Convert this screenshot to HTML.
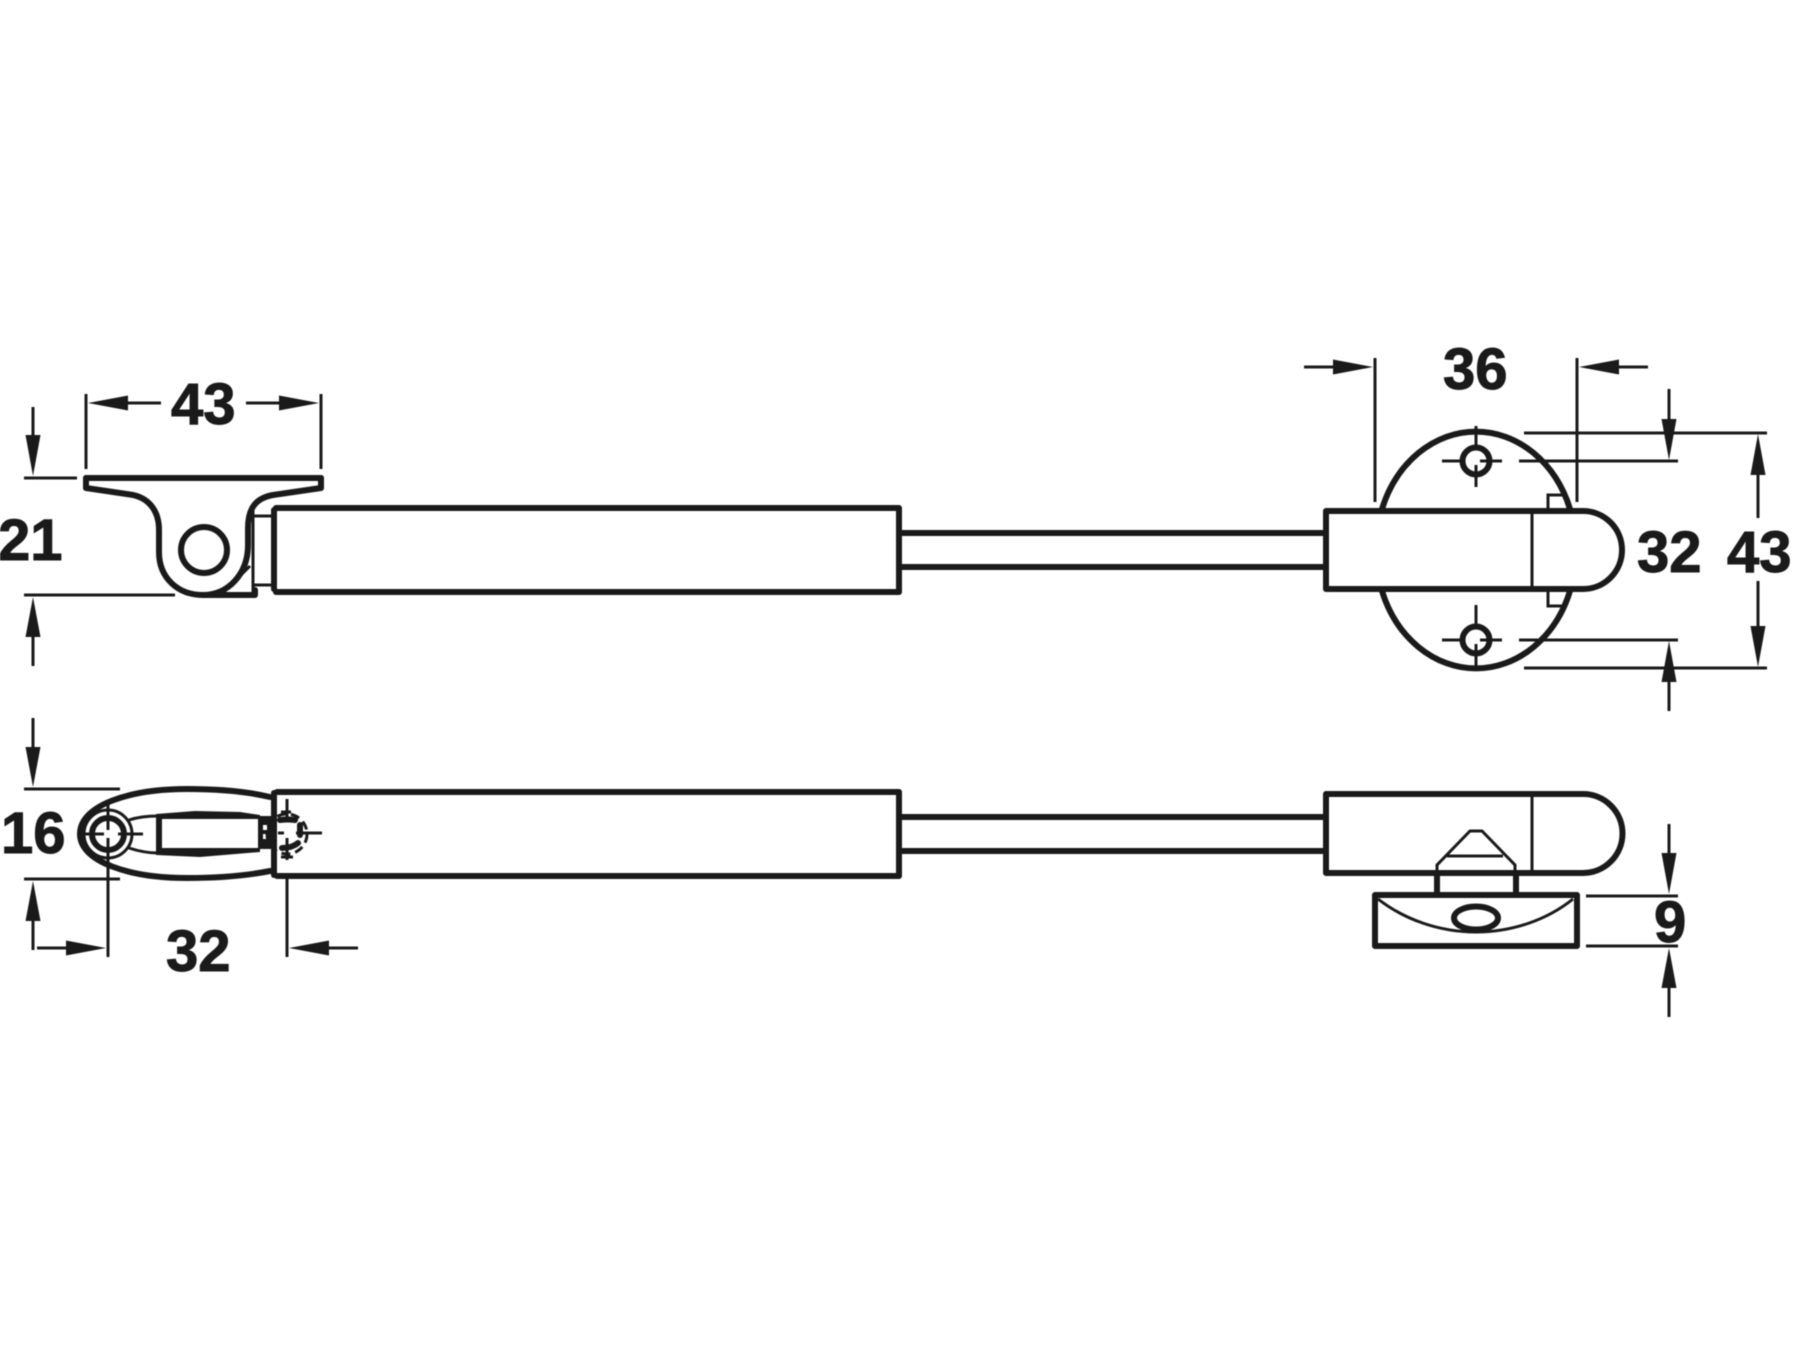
<!DOCTYPE html>
<html>
<head>
<meta charset="utf-8">
<style>
html,body{margin:0;padding:0;background:#fff;}
svg{display:block;filter:blur(0.45px);}
text{font-family:"Liberation Sans",sans-serif;font-weight:bold;font-size:58px;fill:#1a1a1a;stroke:#1a1a1a;stroke-width:1;}
.k{fill:none;stroke:#1a1a1a;stroke-width:6;stroke-linejoin:round;stroke-linecap:round;}
.t{fill:none;stroke:#1a1a1a;stroke-width:3;stroke-linecap:butt;}
.a{fill:#1a1a1a;stroke:none;}
</style>
</head>
<body>
<svg width="1800" height="1350" viewBox="0 0 1800 1350" xmlns="http://www.w3.org/2000/svg">
<rect width="1800" height="1350" fill="#fff"/>

<!-- upper gas strut -->
<path class="k" d="M276 508 H899 V592 H276"/>
<path class="k" d="M274 510 V589" stroke-width="8"/>
<path class="k" d="M902 533 L1326 533 M902 567 L1326 567"/>
<path class="k" d="M1583 511 L1326 511 L1326 589 L1583 589 A39 39 0 0 0 1583 511 Z"/>
<path class="t" d="M1532 511 V589"/>

<!-- plate behind right end -->
<path class="k" d="M1382 509 A100 117.5 0 0 1 1570 509"/>
<path class="k" d="M1382 591 A100 117.5 0 0 0 1570 591"/>
<path class="t" d="M1548 509 V495 H1563 M1548 591 V606 H1564"/>
<circle class="k" cx="1476" cy="461" r="13.5" stroke-width="4.5"/>
<circle class="k" cx="1476" cy="640" r="13.5" stroke-width="4.5"/>
<path class="t" d="M1476 426 V445 M1476 465 V487 M1442 461 H1461 M1480 461 H1502 M1519 461 H1678"/>
<path class="t" d="M1476 605 V624 M1476 644 V668 M1442 640 H1461 M1480 640 H1502 M1519 640 H1678"/>

<!-- upper left bracket -->
<path class="k" d="M86 478 H321" stroke-width="7"/>
<path class="k" d="M86 478 V488 L130 494.5 C148 497 159 510 159 530 V552 C159 578 178 595 203 595 C228 595 248 574 248 545 V528 C248 508 256 498 273 495 L321 488 V478" stroke-width="5.5"/>
<path class="k" d="M203 595 H255 V590" stroke-width="5"/>
<circle class="k" cx="204" cy="550" r="23" stroke-width="4.5"/>
<path class="t" d="M253 592 V510 M223 593 L250 566 M254 516 H271 M254 585 H271"/>

<!-- lower gas strut -->
<path class="k" d="M277 792 H899 V876 H277"/>
<path class="k" d="M274 793 V875" stroke-width="9"/>
<path class="k" d="M902 817 H1326 M902 851 H1326"/>
<path class="k" d="M1583 794 L1326 794 L1326 873 L1583 873 A39.5 39.5 0 0 0 1583 794 Z"/>
<path class="t" d="M1532 794 V873"/>

<!-- lower right bracket -->
<path class="t" d="M1437 872 V865 L1470 831 H1482 L1515 865 V872 M1447 856 H1503"/>
<path class="k" d="M1437 873 V895 M1516 873 V895" stroke-width="5"/>
<rect class="k" x="1375" y="895" width="202" height="51"/>
<path class="t" d="M1378 899 C1405 920 1440 932 1476 932 C1512 932 1547 920 1573 899"/>
<ellipse class="k" cx="1476" cy="918" rx="22" ry="11.5" stroke-width="5"/>

<!-- lower left oval -->
<path class="k" d="M270 797 C245 791 215 789 187 789 C130 789 80 805 80 834 C80 862 130 878 187 878 C215 878 245 876 270 871"/>
<circle class="k" cx="108" cy="834" r="16" stroke-width="5"/>
<circle class="t" cx="108" cy="834" r="24"/>
<path class="t" d="M108 805 V830 M108 838 V861 M80 834 H104 M118 834 H143"/>
<path class="t" d="M129 820 C138 817 148 816 158 816 M129 848 C138 851 148 853 158 853" stroke-width="3.5"/>
<polygon class="a" points="156,814 195,811 240,812 260,815 260,819 162,819 162,848 260,848 260,852 200,857 156,855"/>
<rect class="a" x="258" y="816" width="14" height="33"/>
<rect x="263" y="825" width="4" height="5" fill="#fff"/>
<rect x="263" y="834" width="5" height="5" fill="#fff"/>

<!-- dashed pivot -->
<circle class="t" cx="287" cy="834" r="20" stroke-dasharray="9 5"/>
<path class="k" d="M280 820 Q288 819 295 820 M282 848 Q292 848 298 843 M300 825 V835" stroke-width="5"/>
<path class="t" d="M287 799 V821 M287 838 V860 M281 857 H293 M281 812 H291 M296 833 H322 M278 833 H284"/>

<!-- dimension: 43 top -->
<path class="t" d="M86 394 V469 M321 394 V469 M128 403 H161 M246 403 H279"/>
<polygon class="a" points="88,403 128,395.5 128,410.5"/>
<polygon class="a" points="319,403 279,395.5 279,410.5"/>
<text x="171" y="424">43</text>

<!-- dimension: 21 -->
<path class="t" d="M24 478 H77 M24 595 H175 M33 407 V436 M33 637 V666"/>
<polygon class="a" points="33,476 25.5,435 40.5,435"/>
<polygon class="a" points="33,597 25.5,637 40.5,637"/>
<text x="-2" y="560">21</text>

<!-- dimension: 36 -->
<path class="t" d="M1375 358 V502 M1577 358 V502 M1304 367 H1333 M1619 367 H1648"/>
<polygon class="a" points="1373,367 1333,359.5 1333,374.5"/>
<polygon class="a" points="1579,367 1619,359.5 1619,374.5"/>
<text x="1443" y="389">36</text>

<!-- dimension: 32 right, 43 right -->
<path class="t" d="M1524 433 H1767 M1524 668 H1767 M1669 389 V419 M1669 682 V711 M1758 475 V518 M1758 581 V626"/>
<polygon class="a" points="1669,460 1661.5,419 1676.5,419"/>
<polygon class="a" points="1669,641 1661.5,682 1676.5,682"/>
<polygon class="a" points="1758,434 1750.5,475 1765.5,475"/>
<polygon class="a" points="1758,667 1750.5,626 1765.5,626"/>
<text x="1637" y="572">32</text>
<text x="1727" y="572">43</text>

<!-- dimension: 16 -->
<path class="t" d="M24 789 H120 M24 879 H120 M33 718 V748 M33 921 V950"/>
<polygon class="a" points="33,787 25.5,747 40.5,747"/>
<polygon class="a" points="33,881 25.5,921 40.5,921"/>
<text x="1" y="853">16</text>

<!-- dimension: 32 bottom -->
<path class="t" d="M108 858 V957 M287 876 V957 M37 948 H67 M329 948 H358"/>
<polygon class="a" points="106,948 66,940.5 66,955.5"/>
<polygon class="a" points="289,948 329,940.5 329,955.5"/>
<text x="166" y="971">32</text>

<!-- dimension: 9 -->
<path class="t" d="M1586 896 H1678 M1586 946 H1678 M1669 824 V854 M1669 988 V1017"/>
<polygon class="a" points="1669,894 1661.5,853 1676.5,853"/>
<polygon class="a" points="1669,948 1661.5,988 1676.5,988"/>
<text x="1654" y="942">9</text>
</svg>
</body>
</html>
